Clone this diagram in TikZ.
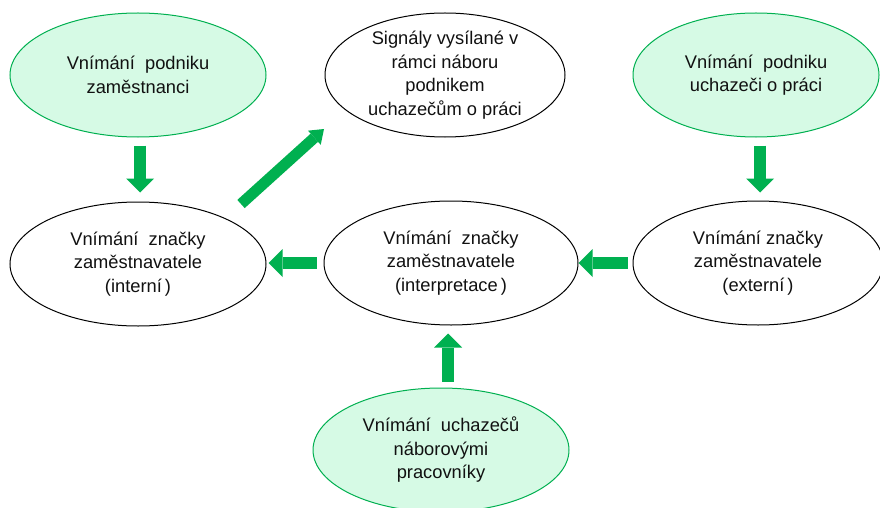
\documentclass[tikz,border=0pt]{standalone}
\usepackage{fontspec}
\setmainfont{Liberation Sans}
\usetikzlibrary{shapes.geometric,arrows.meta,calc}
\definecolor{gr}{HTML}{00B050}
\definecolor{lgr}{HTML}{D6FAE5}
\definecolor{txt}{HTML}{111111}
\begin{document}
\begin{tikzpicture}[x=1pt,y=-1pt,
  every node/.style={font=\fontsize{18.3}{23.5}\selectfont, align=center, inner sep=0pt, text=txt},
  gell/.style={ellipse, draw=gr, fill=lgr, line width=1pt},
  bell/.style={ellipse, draw=black, line width=1pt, fill=white},
  garrow/.style={draw=gr, line width=12.5pt, -{Triangle[width=28pt,length=14pt,line width=0pt]}},
  darrow/.style={draw=gr, line width=11pt, -{Triangle[width=19pt,length=13pt,line width=0pt]}}]
\useasboundingbox (0,0) rectangle (880,508);
\fill[white] (0,0) rectangle (880,508);

\node[gell, minimum width=256pt, minimum height=124pt] (tl) at (138,75) {Vnímání\ \ podniku\\zaměstnanci};
\node[bell, minimum width=240pt, minimum height=124pt, inner ysep=-3pt] (sig) at (445,75) {Signály vysílané v\\rámci náboru\\podnikem\\uchazečům o práci};
\node[gell, minimum width=246pt, minimum height=124pt] (tr) at (756,75) {Vnímání\ \ podniku\\uchazeči o práci};
\node[bell, minimum width=256pt, minimum height=124pt] (il) at (138,264) {Vnímání\ \ značky\\zaměstnavatele\\(interní\,)};
\node[bell, minimum width=254pt, minimum height=124pt] (ic) at (451,263) {Vnímání\ \ značky\\zaměstnavatele\\(interpretace\,)};
\node[bell, minimum width=250pt, minimum height=124pt] (er) at (758,263) {Vnímání značky\\zaměstnavatele\\(externí\,)};
\node[gell, minimum width=256pt, minimum height=124pt] (bt) at (441,450) {Vnímání\ \ uchazečů\\náborovými\\pracovníky};

\draw[garrow] ($(tl.south)+(2,8)$) -- ($(il.north)+(2,-9)$);
\draw[garrow] ($(tr.south)+(4,8)$) -- ($(er.north)+(2,-8)$);
\draw[garrow] ($(ic.west)+(-7,0)$) -- ($(il.east)+(2,-1)$);
\draw[garrow] ($(er.west)+(-5,0)$) -- ($(ic.east)+(0,0)$);
\draw[garrow] ($(bt.north)+(7,-6)$) -- ($(ic.south)+(-3,8)$);
\draw[darrow] ($(il.center)+(103,-60)$) -- ($(sig.center)+(-121,54)$);
\end{tikzpicture}
\end{document}
